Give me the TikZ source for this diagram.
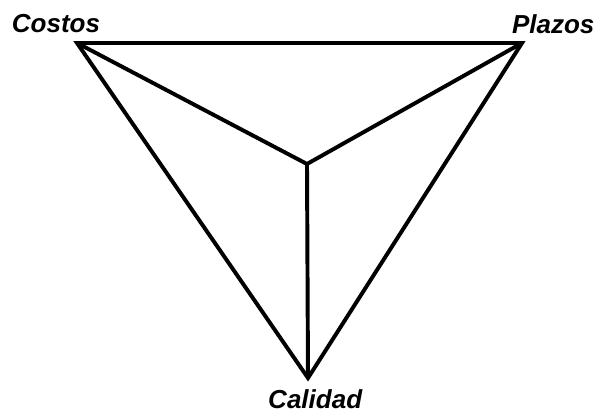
\documentclass[tikz,border=0pt]{standalone}
\usepackage{fontspec}
\setmainfont{Liberation Sans}
\usetikzlibrary{positioning}
\tikzset{
  vertice/.style={font=\fontsize{18.5}{22}\selectfont\bfseries\itshape,inner sep=0pt,anchor=base},
  arista/.style={line width=2.8pt,black}
}
\begin{document}
\begin{tikzpicture}
  \useasboundingbox (0,0) rectangle (15,10.35);
  % vertices of the triangle
  \coordinate (costos) at (1.925,9.275);
  \coordinate (plazos) at (13.05,9.275);
  \coordinate (calidad) at (7.7,0.9);
  \coordinate (centro) at (7.675,6.25);
  \draw[arista] (costos) -- (plazos) -- (calidad) -- cycle;
  \draw[arista] (costos) -- (centro) -- (plazos);
  \draw[arista] (centro) -- (calidad);
  % labels
  \node[vertice] (lcostos) at (1.4,9.55) {Costos};
  \node[vertice] (lplazos) at (13.83,9.52) {Plazos};
  \node[vertice] (lcalidad) at (7.88,0.14) {Calidad};
\end{tikzpicture}
\end{document}
